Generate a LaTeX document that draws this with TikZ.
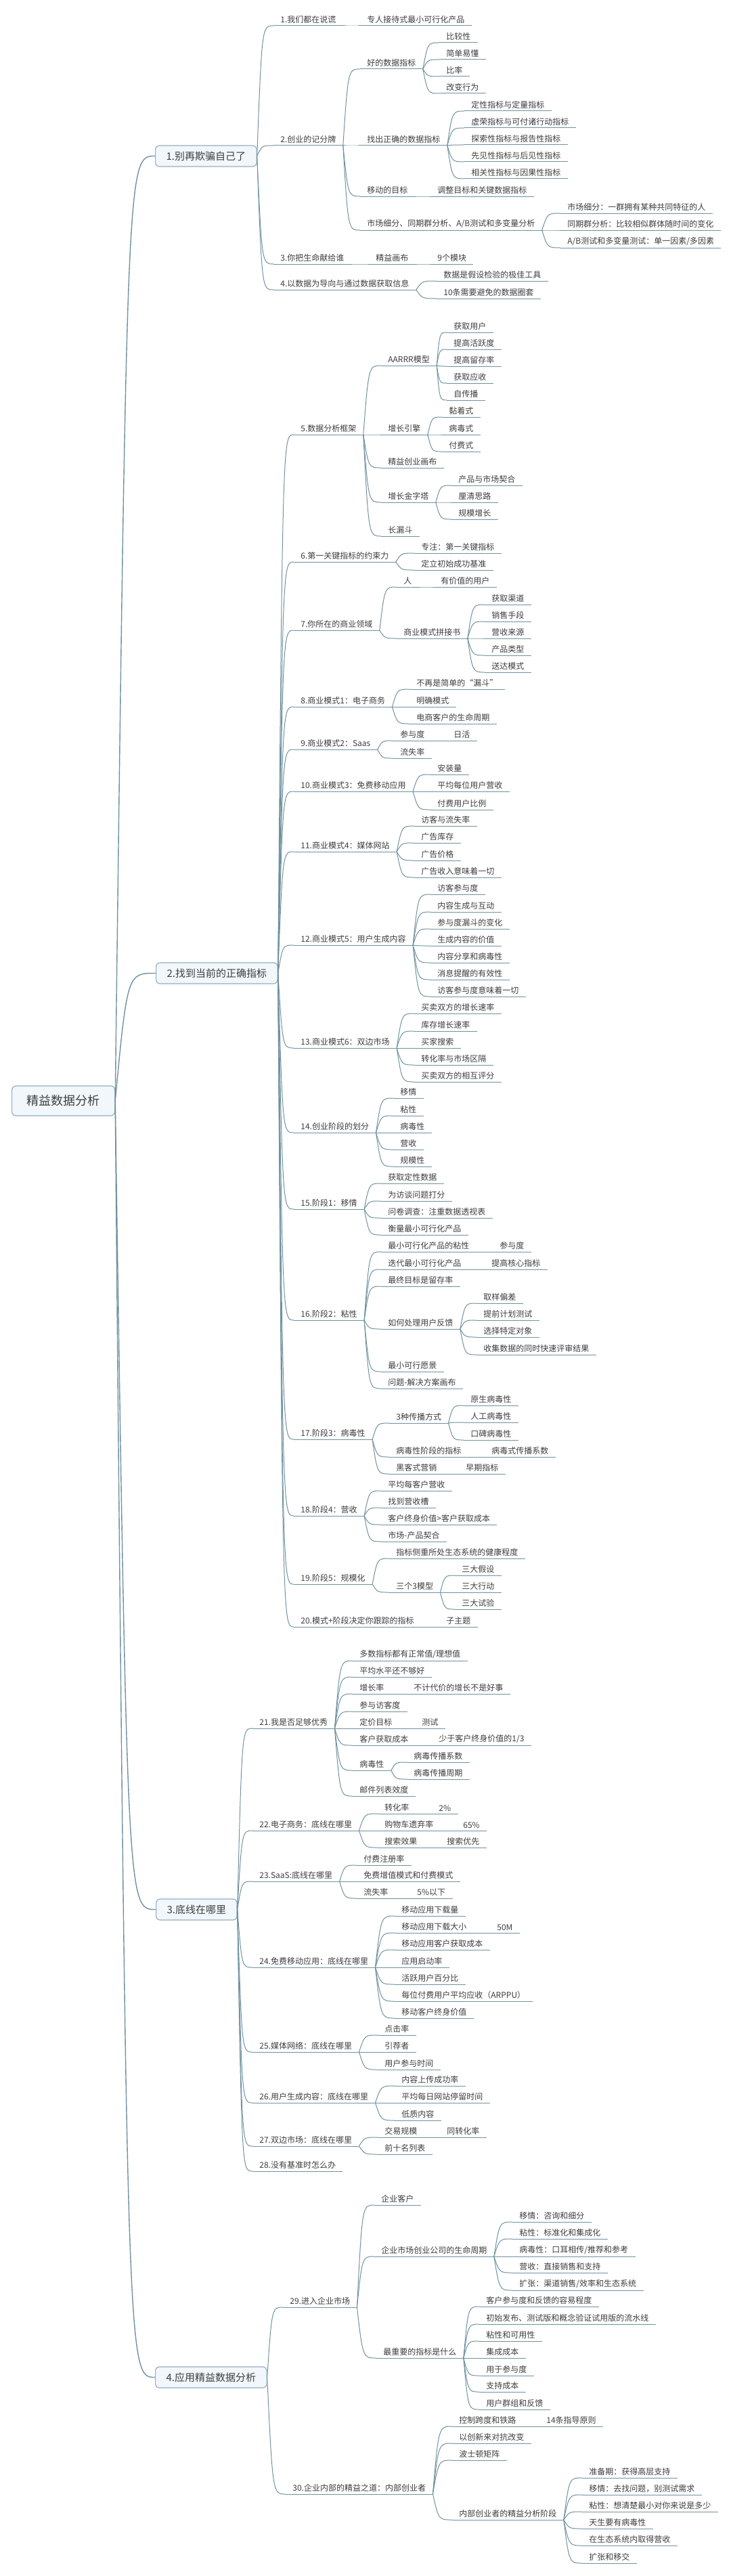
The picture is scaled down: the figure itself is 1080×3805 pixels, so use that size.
\documentclass[tikz,border=0pt]{standalone}
\usepackage{fontspec}
\setmainfont{Noto Sans CJK SC}
\usetikzlibrary{calc}
\definecolor{linec}{RGB}{112,146,160}
\definecolor{textc}{RGB}{62,62,62}
\definecolor{boxc}{RGB}{150,175,195}
\definecolor{boxfill}{RGB}{241,247,251}
\begin{document}
\begin{tikzpicture}[x=0.5pt, y=-0.5pt,
  link/.style={draw=linec, line width=0.5pt,
    to path={let \p1=(\tikztostart), \p2=(\tikztotarget) in
      .. controls ({\x1+0.3*(\x2-\x1)},\y2) .. (\tikztotarget)}},
  uline/.style={draw=linec, line width=0.5pt},
  topic/.style={anchor=south west, inner xsep=5pt, inner ysep=1.6pt, text=textc,
    font=\fontsize{6pt}{7pt}\selectfont,
    append after command={(\tikzlastnode.south west) edge[uline] (\tikzlastnode.south east)}},
  mainbox/.style={anchor=west, draw=boxc, fill=boxfill, rounded corners=3pt, line width=0.6pt,
    inner xsep=8pt, minimum height=15.5pt, text=textc, font=\fontsize{7.5pt}{9pt}\selectfont},
  rootbox/.style={mainbox, inner xsep=11pt, minimum height=22pt, font=\fontsize{9pt}{11pt}\selectfont}]
  \path[use as bounding box, fill=white] (0,0) rectangle (1080,3805);

  \node[rootbox] (root) at (17,1626) {精益数据分析};
  \node[mainbox] (b1) at (229,230.5) {1.别再欺骗自己了};
  \node[mainbox] (b2) at (230,1437.5) {2.找到当前的正确指标};
  \node[mainbox] (b3) at (230,2820.5) {3.底线在哪里};
  \node[mainbox] (b4) at (229,3511.5) {4.应用精益数据分析};
  \foreach \b in {b1,b2,b3,b4} \draw[link, line width=0.7pt] (root.east) to (\b.west);

  % 1. 别再欺骗自己了
  \node[topic] (s1) at (404,38) {1.我们都在说谎};
  \node[topic] (s1a) at (532,38) {专人接待式最小可行化产品};
  \node[topic] (s2) at (404,215) {2.创业的记分牌};
  \node[topic] (s2a) at (532,102) {好的数据指标};
  \node[topic] (s2a1) at (649,63) {比较性};
  \node[topic] (s2a2) at (649,88) {简单易懂};
  \node[topic] (s2a3) at (649,113) {比率};
  \node[topic] (s2a4) at (649,138) {改变行为};
  \node[topic] (s2b) at (532,215) {找出正确的数据指标};
  \node[topic] (s2b1) at (686,164) {定性指标与定量指标};
  \node[topic] (s2b2) at (686,189) {虚荣指标与可付诸行动指标};
  \node[topic] (s2b3) at (686,214) {探索性指标与报告性指标};
  \node[topic] (s2b4) at (686,239) {先见性指标与后见性指标};
  \node[topic] (s2b5) at (686,264) {相关性指标与因果性指标};
  \node[topic] (s2c) at (532,290) {移动的目标};
  \node[topic] (s2c1) at (636,290) {调整目标和关键数据指标};
  \node[topic] (s2d) at (532,340) {市场细分、同期群分析、A/B测试和多变量分析};
  \node[topic] (s2d1) at (828,315) {市场细分：一群拥有某种共同特征的人};
  \node[topic] (s2d2) at (828,340) {同期群分析：比较相似群体随时间的变化};
  \node[topic] (s2d3) at (828,366) {A/B测试和多变量测试：单一因素/多因素};
  \node[topic] (s3) at (404,390) {3.你把生命献给谁};
  \node[topic] (s3a) at (545,390) {精益画布};
  \node[topic] (s3a1) at (636,390) {9个模块};
  \node[topic] (s4) at (404,428) {4.以数据为导向与通过数据获取信息};
  \node[topic] (s4a) at (645,415) {数据是假设检验的极佳工具};
  \node[topic] (s4b) at (645,441) {10条需要避免的数据圈套};

  \foreach \c in {s1,s2,s3,s4} \draw[link] (b1.east) to (\c.south west);
  \draw[link] (s1.south east) to (s1a.south west);
  \foreach \c in {s2a,s2b,s2c,s2d} \draw[link] (s2.south east) to (\c.south west);
  \foreach \c in {s2a1,s2a2,s2a3,s2a4} \draw[link] (s2a.south east) to (\c.south west);
  \foreach \c in {s2b1,s2b2,s2b3,s2b4,s2b5} \draw[link] (s2b.south east) to (\c.south west);
  \draw[link] (s2c.south east) to (s2c1.south west);
  \foreach \c in {s2d1,s2d2,s2d3} \draw[link] (s2d.south east) to (\c.south west);
  \draw[link] (s3.south east) to (s3a.south west);
  \draw[link] (s3a.south east) to (s3a1.south west);
  \foreach \c in {s4a,s4b} \draw[link] (s4.south east) to (\c.south west);

  % 2. 找到当前的正确指标
  \node[topic] (t5) at (434,642) {5.数据分析框架};
  \node[topic] (t5a) at (563,540) {AARRR模型};
  \node[topic] (t5a1) at (660,491) {获取用户};
  \node[topic] (t5a2) at (660,516) {提高活跃度};
  \node[topic] (t5a3) at (660,541) {提高留存率};
  \node[topic] (t5a4) at (660,566) {获取应收};
  \node[topic] (t5a5) at (660,591) {自传播};
  \node[topic] (t5b) at (563,642) {增长引擎};
  \node[topic] (t5b1) at (653,616) {黏着式};
  \node[topic] (t5b2) at (653,642) {病毒式};
  \node[topic] (t5b3) at (653,667) {付费式};
  \node[topic] (t5c) at (563,691) {精益创业画布};
  \node[topic] (t5d) at (563,742) {增长金字塔};
  \node[topic] (t5d1) at (667,717) {产品与市场契合};
  \node[topic] (t5d2) at (667,742) {厘清思路};
  \node[topic] (t5d3) at (667,767) {规模增长};
  \node[topic] (t5e) at (563,792) {长漏斗};
  \node[topic] (t6) at (434,830) {6.第一关键指标的约束力};
  \node[topic] (t6a) at (612,817) {专注：第一关键指标};
  \node[topic] (t6b) at (612,842) {定立初始成功基准};
  \node[topic] (t7) at (434,931) {7.你所在的商业领域};
  \node[topic] (t7a) at (586,867) {人};
  \node[topic] (t7a1) at (641,867) {有价值的用户};
  \node[topic] (t7b) at (586,943) {商业模式拼接书};
  \node[topic] (t7b1) at (716,893) {获取渠道};
  \node[topic] (t7b2) at (716,918) {销售手段};
  \node[topic] (t7b3) at (716,943) {营收来源};
  \node[topic] (t7b4) at (716,968) {产品类型};
  \node[topic] (t7b5) at (716,993) {送达模式};
  \node[topic] (t8) at (434,1044) {8.商业模式1：电子商务};
  \node[topic] (t8a) at (605,1018) {不再是简单的“漏斗”};
  \node[topic] (t8b) at (605,1044) {明确模式};
  \node[topic] (t8c) at (605,1069) {电商客户的生命周期};
  \node[topic] (t9) at (434,1107) {9.商业模式2：Saas};
  \node[topic] (t9a) at (581,1094) {参与度};
  \node[topic] (t9a1) at (660,1094) {日活};
  \node[topic] (t9b) at (581,1120) {流失率};
  \node[topic] (t10) at (434,1169) {10.商业模式3：免费移动应用};
  \node[topic] (t10a) at (636,1144) {安装量};
  \node[topic] (t10b) at (636,1169) {平均每位用户营收};
  \node[topic] (t10c) at (636,1196) {付费用户比例};
  \node[topic] (t11) at (434,1258) {11.商业模式4：媒体网站};
  \node[topic] (t11a) at (612,1220) {访客与流失率};
  \node[topic] (t11b) at (612,1245) {广告库存};
  \node[topic] (t11c) at (612,1271) {广告价格};
  \node[topic] (t11d) at (612,1296) {广告收入意味着一切};
  \node[topic] (t12) at (434,1396) {12.商业模式5：用户生成内容};
  \node[topic] (t12a) at (636,1321) {访客参与度};
  \node[topic] (t12b) at (636,1347) {内容生成与互动};
  \node[topic] (t12c) at (636,1372) {参与度漏斗的变化};
  \node[topic] (t12d) at (636,1397) {生成内容的价值};
  \node[topic] (t12e) at (636,1422) {内容分享和病毒性};
  \node[topic] (t12f) at (636,1447) {消息提醒的有效性};
  \node[topic] (t12g) at (636,1472) {访客参与度意味着一切};
  \node[topic] (t13) at (434,1548) {13.商业模式6：双边市场};
  \node[topic] (t13a) at (612,1497) {买卖双方的增长速率};
  \node[topic] (t13b) at (612,1523) {库存增长速率};
  \node[topic] (t13c) at (612,1548) {买家搜索};
  \node[topic] (t13d) at (612,1573) {转化率与市场区隔};
  \node[topic] (t13e) at (612,1598) {买卖双方的相互评分};
  \node[topic] (t14) at (434,1673) {14.创业阶段的划分};
  \node[topic] (t14a) at (581,1622) {移情};
  \node[topic] (t14b) at (581,1648) {粘性};
  \node[topic] (t14c) at (581,1673) {病毒性};
  \node[topic] (t14d) at (581,1698) {营收};
  \node[topic] (t14e) at (581,1723) {规模性};
  \node[topic] (t15) at (434,1786) {15.阶段1：移情};
  \node[topic] (t15a) at (563,1748) {获取定性数据};
  \node[topic] (t15b) at (563,1774) {为访谈问题打分};
  \node[topic] (t15c) at (563,1799) {问卷调查：注重数据透视表};
  \node[topic] (t15d) at (563,1824) {衡量最小可行化产品};
  \node[topic] (t16) at (434,1950) {16.阶段2：粘性};
  \node[topic] (t16a) at (563,1849) {最小可行化产品的粘性};
  \node[topic] (t16a1) at (728,1849) {参与度};
  \node[topic] (t16b) at (563,1875) {迭代最小可行化产品};
  \node[topic] (t16b1) at (716,1875) {提高核心指标};
  \node[topic] (t16c) at (563,1900) {最终目标是留存率};
  \node[topic] (t16d) at (563,1963) {如何处理用户反馈};
  \node[topic] (t16d1) at (704,1925) {取样偏差};
  \node[topic] (t16d2) at (704,1950) {提前计划测试};
  \node[topic] (t16d3) at (704,1975) {选择特定对象};
  \node[topic] (t16d4) at (704,2001) {收集数据的同时快速评审结果};
  \node[topic] (t16e) at (563,2026) {最小可行愿景};
  \node[topic] (t16f) at (563,2051) {问题-解决方案画布};
  \node[topic] (t17) at (434,2126) {17.阶段3：病毒性};
  \node[topic] (t17a) at (575,2102) {3种传播方式};
  \node[topic] (t17a1) at (685,2076) {原生病毒性};
  \node[topic] (t17a2) at (685,2101) {人工病毒性};
  \node[topic] (t17a3) at (685,2127) {口碑病毒性};
  \node[topic] (t17b) at (575,2152) {病毒性阶段的指标};
  \node[topic] (t17b1) at (716,2152) {病毒式传播系数};
  \node[topic] (t17c) at (575,2177) {黑客式营销};
  \node[topic] (t17c1) at (678,2177) {早期指标};
  \node[topic] (t18) at (434,2239) {18.阶段4：营收};
  \node[topic] (t18a) at (563,2202) {平均每客户营收};
  \node[topic] (t18b) at (563,2227) {找到营收槽};
  \node[topic] (t18c) at (563,2252) {客户终身价值>客户获取成本};
  \node[topic] (t18d) at (563,2277) {市场-产品契合};
  \node[topic] (t19) at (434,2340) {19.阶段5：规模化};
  \node[topic] (t19a) at (575,2302) {指标侧重所处生态系统的健康程度};
  \node[topic] (t19b) at (575,2352) {三个3模型};
  \node[topic] (t19b1) at (672,2327) {三大假设};
  \node[topic] (t19b2) at (672,2352) {三大行动};
  \node[topic] (t19b3) at (672,2377) {三大试验};
  \node[topic] (t20) at (434,2403) {20.模式+阶段决定你跟踪的指标};
  \node[topic] (t20a) at (649,2403) {子主题};

  \foreach \c in {t5,t6,t7,t8,t9,t10,t11,t12,t13,t14,t15,t16,t17,t18,t19,t20}
    \draw[link] (b2.east) to (\c.south west);
  \foreach \c in {t5a,t5b,t5c,t5d,t5e} \draw[link] (t5.south east) to (\c.south west);
  \foreach \c in {t5a1,t5a2,t5a3,t5a4,t5a5} \draw[link] (t5a.south east) to (\c.south west);
  \foreach \c in {t5b1,t5b2,t5b3} \draw[link] (t5b.south east) to (\c.south west);
  \foreach \c in {t5d1,t5d2,t5d3} \draw[link] (t5d.south east) to (\c.south west);
  \foreach \c in {t6a,t6b} \draw[link] (t6.south east) to (\c.south west);
  \foreach \c in {t7a,t7b} \draw[link] (t7.south east) to (\c.south west);
  \draw[link] (t7a.south east) to (t7a1.south west);
  \foreach \c in {t7b1,t7b2,t7b3,t7b4,t7b5} \draw[link] (t7b.south east) to (\c.south west);
  \foreach \c in {t8a,t8b,t8c} \draw[link] (t8.south east) to (\c.south west);
  \foreach \c in {t9a,t9b} \draw[link] (t9.south east) to (\c.south west);
  \draw[link] (t9a.south east) to (t9a1.south west);
  \foreach \c in {t10a,t10b,t10c} \draw[link] (t10.south east) to (\c.south west);
  \foreach \c in {t11a,t11b,t11c,t11d} \draw[link] (t11.south east) to (\c.south west);
  \foreach \c in {t12a,t12b,t12c,t12d,t12e,t12f,t12g} \draw[link] (t12.south east) to (\c.south west);
  \foreach \c in {t13a,t13b,t13c,t13d,t13e} \draw[link] (t13.south east) to (\c.south west);
  \foreach \c in {t14a,t14b,t14c,t14d,t14e} \draw[link] (t14.south east) to (\c.south west);
  \foreach \c in {t15a,t15b,t15c,t15d} \draw[link] (t15.south east) to (\c.south west);
  \foreach \c in {t16a,t16b,t16c,t16d,t16e,t16f} \draw[link] (t16.south east) to (\c.south west);
  \draw[link] (t16a.south east) to (t16a1.south west);
  \draw[link] (t16b.south east) to (t16b1.south west);
  \foreach \c in {t16d1,t16d2,t16d3,t16d4} \draw[link] (t16d.south east) to (\c.south west);
  \foreach \c in {t17a,t17b,t17c} \draw[link] (t17.south east) to (\c.south west);
  \foreach \c in {t17a1,t17a2,t17a3} \draw[link] (t17a.south east) to (\c.south west);
  \draw[link] (t17b.south east) to (t17b1.south west);
  \draw[link] (t17c.south east) to (t17c1.south west);
  \foreach \c in {t18a,t18b,t18c,t18d} \draw[link] (t18.south east) to (\c.south west);
  \foreach \c in {t19a,t19b} \draw[link] (t19.south east) to (\c.south west);
  \foreach \c in {t19b1,t19b2,t19b3} \draw[link] (t19b.south east) to (\c.south west);
  \draw[link] (t20.south east) to (t20a.south west);

  % 3. 底线在哪里
  \node[topic] (u21) at (373,2553) {21.我是否足够优秀};
  \node[topic] (u21a) at (521,2453) {多数指标都有正常值/理想值};
  \node[topic] (u21b) at (521,2477) {平均水平还不够好};
  \node[topic] (u21c) at (521,2502) {增长率};
  \node[topic] (u21c1) at (601,2502) {不计代价的增长不是好事};
  \node[topic] (u21d) at (521,2528) {参与访客度};
  \node[topic] (u21e) at (521,2553) {定价目标};
  \node[topic] (u21e1) at (613,2553) {测试};
  \node[topic] (u21f) at (521,2578) {客户获取成本};
  \node[topic] (u21f1) at (638,2578) {少于客户终身价值的1/3};
  \node[topic] (u21g) at (521,2615) {病毒性};
  \node[topic] (u21g1) at (601,2603) {病毒传播系数};
  \node[topic] (u21g2) at (601,2628) {病毒传播周期};
  \node[topic] (u21h) at (521,2653) {邮件列表效度};
  \node[topic] (u22) at (373,2704) {22.电子商务：底线在哪里};
  \node[topic] (u22a) at (558,2679) {转化率};
  \node[topic] (u22a1) at (638,2679) {2\%};
  \node[topic] (u22b) at (558,2704) {购物车遗弃率};
  \node[topic] (u22b1) at (674,2704) {65\%};
  \node[topic] (u22c) at (558,2729) {搜索效果};
  \node[topic] (u22c1) at (650,2729) {搜索优先};
  \node[topic] (u23) at (373,2779) {23.SaaS:底线在哪里};
  \node[topic] (u23a) at (527,2755) {付费注册率};
  \node[topic] (u23b) at (527,2779) {免费增值模式和付费模式};
  \node[topic] (u23c) at (527,2804) {流失率};
  \node[topic] (u23c1) at (606,2804) {5\%以下};
  \node[topic] (u24) at (373,2906) {24.免费移动应用：底线在哪里};
  \node[topic] (u24a) at (583,2830) {移动应用下载量};
  \node[topic] (u24b) at (583,2855) {移动应用下载大小};
  \node[topic] (u24b1) at (724,2855) {50M};
  \node[topic] (u24c) at (583,2880) {移动应用客户获取成本};
  \node[topic] (u24d) at (583,2906) {应用启动率};
  \node[topic] (u24e) at (583,2931) {活跃用户百分比};
  \node[topic] (u24f) at (583,2956) {每位付费用户平均应收（ARPPU）};
  \node[topic] (u24g) at (583,2981) {移动客户终身价值};
  \node[topic] (u25) at (373,3031) {25.媒体网络：底线在哪里};
  \node[topic] (u25a) at (558,3006) {点击率};
  \node[topic] (u25b) at (558,3031) {引荐者};
  \node[topic] (u25c) at (558,3057) {用户参与时间};
  \node[topic] (u26) at (373,3106) {26.用户生成内容：底线在哪里};
  \node[topic] (u26a) at (583,3081) {内容上传成功率};
  \node[topic] (u26b) at (583,3106) {平均每日网站停留时间};
  \node[topic] (u26c) at (583,3132) {低质内容};
  \node[topic] (u27) at (373,3170) {27.双边市场：底线在哪里};
  \node[topic] (u27a) at (558,3157) {交易规模};
  \node[topic] (u27a1) at (650,3157) {同转化率};
  \node[topic] (u27b) at (558,3182) {前十名列表};
  \node[topic] (u28) at (373,3207) {28.没有基准时怎么办};

  \foreach \c in {u21,u22,u23,u24,u25,u26,u27,u28} \draw[link] (b3.east) to (\c.south west);
  \foreach \c in {u21a,u21b,u21c,u21d,u21e,u21f,u21g,u21h} \draw[link] (u21.south east) to (\c.south west);
  \draw[link] (u21c.south east) to (u21c1.south west);
  \draw[link] (u21e.south east) to (u21e1.south west);
  \draw[link] (u21f.south east) to (u21f1.south west);
  \foreach \c in {u21g1,u21g2} \draw[link] (u21g.south east) to (\c.south west);
  \foreach \c in {u22a,u22b,u22c} \draw[link] (u22.south east) to (\c.south west);
  \draw[link] (u22a.south east) to (u22a1.south west);
  \draw[link] (u22b.south east) to (u22b1.south west);
  \draw[link] (u22c.south east) to (u22c1.south west);
  \foreach \c in {u23a,u23b,u23c} \draw[link] (u23.south east) to (\c.south west);
  \draw[link] (u23c.south east) to (u23c1.south west);
  \foreach \c in {u24a,u24b,u24c,u24d,u24e,u24f,u24g} \draw[link] (u24.south east) to (\c.south west);
  \draw[link] (u24b.south east) to (u24b1.south west);
  \foreach \c in {u25a,u25b,u25c} \draw[link] (u25.south east) to (\c.south west);
  \foreach \c in {u26a,u26b,u26c} \draw[link] (u26.south east) to (\c.south west);
  \foreach \c in {u27a,u27b} \draw[link] (u27.south east) to (\c.south west);
  \draw[link] (u27a.south east) to (u27a1.south west);

  % 4. 应用精益数据分析
  \node[topic] (v29) at (418,3408) {29.进入企业市场};
  \node[topic] (v29a) at (553,3257) {企业客户};
  \node[topic] (v29b) at (553,3333) {企业市场创业公司的生命周期};
  \node[topic] (v29b1) at (757,3282) {移情：咨询和细分};
  \node[topic] (v29b2) at (757,3307) {粘性：标准化和集成化};
  \node[topic] (v29b3) at (757,3333) {病毒性：口耳相传/推荐和参考};
  \node[topic] (v29b4) at (757,3357) {营收：直接销售和支持};
  \node[topic] (v29b5) at (757,3383) {扩张：渠道销售/效率和生态系统};
  \node[topic] (v29c) at (556,3483) {最重要的指标是什么};
  \node[topic] (v29c1) at (708,3407) {客户参与度和反馈的容易程度};
  \node[topic] (v29c2) at (708,3433) {初始发布、测试版和概念验证试用版的流水线};
  \node[topic] (v29c3) at (708,3458) {粘性和可用性};
  \node[topic] (v29c4) at (708,3483) {集成成本};
  \node[topic] (v29c5) at (708,3509) {用于参与度};
  \node[topic] (v29c6) at (708,3533) {支持成本};
  \node[topic] (v29c7) at (708,3559) {用户群组和反馈};
  \node[topic] (v30) at (422,3684) {30.企业内部的精益之道：内部创业者};
  \node[topic] (v30a) at (668,3584) {控制跨度和铁路};
  \node[topic] (v30a1) at (797,3584) {14条指导原则};
  \node[topic] (v30b) at (668,3609) {以创新来对抗改变};
  \node[topic] (v30c) at (668,3634) {波士顿矩阵};
  \node[topic] (v30d) at (668,3722) {内部创业者的精益分析阶段};
  \node[topic] (v30d1) at (860,3660) {准备期：获得高层支持};
  \node[topic] (v30d2) at (860,3685) {移情：去找问题，别测试需求};
  \node[topic] (v30d3) at (860,3710) {粘性：想清楚最小对你来说是多少};
  \node[topic] (v30d4) at (860,3735) {天生要有病毒性};
  \node[topic] (v30d5) at (860,3760) {在生态系统内取得营收};
  \node[topic] (v30d6) at (860,3786) {扩张和移交};

  \foreach \c in {v29,v30} \draw[link] (b4.east) to (\c.south west);
  \foreach \c in {v29a,v29b,v29c} \draw[link] (v29.south east) to (\c.south west);
  \foreach \c in {v29b1,v29b2,v29b3,v29b4,v29b5} \draw[link] (v29b.south east) to (\c.south west);
  \foreach \c in {v29c1,v29c2,v29c3,v29c4,v29c5,v29c6,v29c7} \draw[link] (v29c.south east) to (\c.south west);
  \foreach \c in {v30a,v30b,v30c,v30d} \draw[link] (v30.south east) to (\c.south west);
  \draw[link] (v30a.south east) to (v30a1.south west);
  \foreach \c in {v30d1,v30d2,v30d3,v30d4,v30d5,v30d6} \draw[link] (v30d.south east) to (\c.south west);
\end{tikzpicture}
\end{document}
